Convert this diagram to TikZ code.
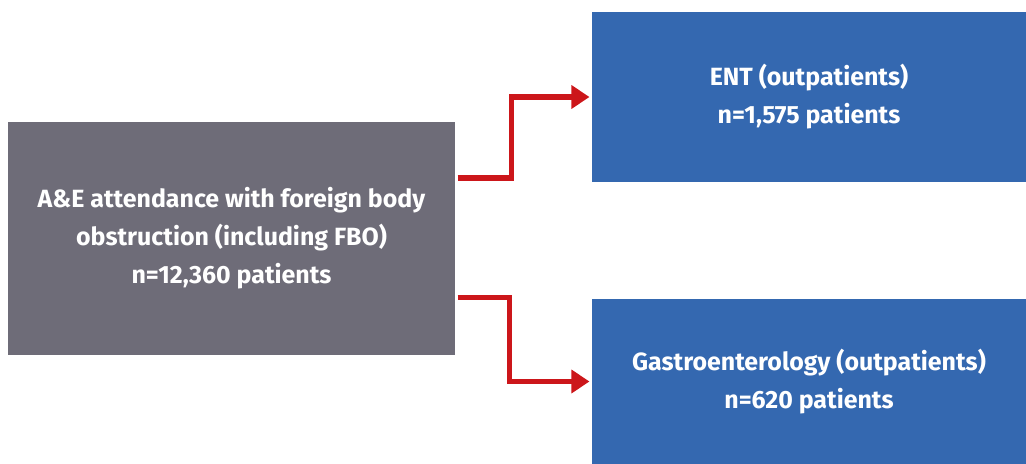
\documentclass[tikz,border=0pt]{standalone}
\usepackage{fontspec}
\setmainfont{Fira Sans}
\usepackage{tikz}
\usetikzlibrary{arrows.meta,positioning}
\definecolor{aegrey}{RGB}{110,108,120}
\definecolor{clinicblue}{RGB}{52,104,176}
\definecolor{flowred}{RGB}{204,22,26}

\begin{document}
\begin{tikzpicture}[x=0.75pt,y=-0.75pt,->,>={Triangle[length=13.5pt,width=17pt]},
line width=3.8pt]
\tikzset{
  box/.style={draw=none,text=white,align=center,inner sep=0pt,
    font=\fontsize{18.7}{28.5}\selectfont\bfseries},
  source/.style={box,fill=aegrey,minimum width=335.25pt,minimum height=174.75pt},
  target/.style={box,fill=clinicblue,minimum width=325.5pt},
  flow/.style={draw=flowred}
}
\useasboundingbox (0,0) rectangle (1026,464);

\node[source] (aande) at (231.5,238.5) {A\&E attendance with foreign body\\obstruction (including FBO)\\n=12,360 patients};
\node[target,minimum height=127.5pt] (ent) at (809,97) {ENT (outpatients)\\n=1,575 patients};
\node[target,minimum height=123.75pt] (gastro) at (809,381.5) {Gastroenterology (outpatients)\\n=620 patients};

\draw[flow] ([yshift=45.4pt]aande.east) -- ++(40.5pt,0) |- (ent.west);
\draw[flow] ([yshift=-43.9pt]aande.east) -- ++(39pt,0) |- (gastro.west);
\end{tikzpicture}
\end{document}
